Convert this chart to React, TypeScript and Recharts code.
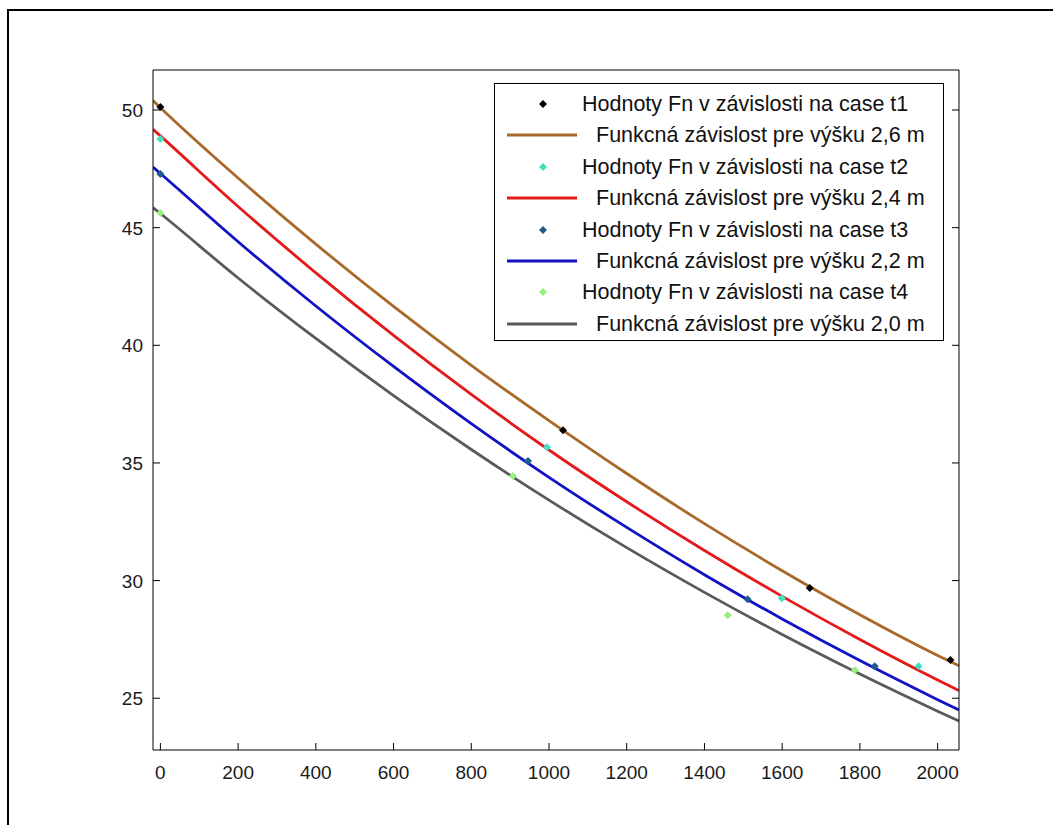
import React from "react";
import { ComposedChart, Line, Scatter, XAxis, YAxis, Legend } from "recharts";

const curveX = [-19, 0, 200, 400, 600, 800, 1000, 1200, 1400, 1600, 1800, 2000, 2055];
const fit26 = [50.4, 50.1, 47.11, 44.3, 41.65, 39.15, 36.8, 34.55, 32.42, 30.42, 28.55, 26.82, 26.38];
const fit24 = [49.18, 48.9, 45.9, 43.08, 40.42, 37.91, 35.55, 33.35, 31.28, 29.33, 27.5, 25.78, 25.33];
const fit22 = [47.57, 47.3, 44.4, 41.67, 39.1, 36.67, 34.39, 32.26, 30.25, 28.37, 26.6, 24.94, 24.5];
const fit20 = [45.85, 45.6, 42.86, 40.29, 37.86, 35.57, 33.42, 31.4, 29.5, 27.71, 26.03, 24.45, 24.03];

// measured points
const t1X = [0, 1036, 1671, 2033];
const t1Y = [50.13, 36.39, 29.68, 26.62];
const t2X = [0, 995, 1599, 1951];
const t2Y = [48.77, 35.67, 29.25, 26.36];
const t3X = [0, 946, 1511, 1838];
const t3Y = [47.28, 35.08, 29.21, 26.36];
const t4X = [0, 907, 1460, 1787];
const t4Y = [45.62, 34.44, 28.53, 26.19];

const xTicks = [0, 200, 400, 600, 800, 1000, 1200, 1400, 1600, 1800, 2000];
const yTicks = [25, 30, 35, 40, 45, 50];

const legendLabels = [
  "Hodnoty Fn v závislosti na case t1",
  "Funkcná závislost pre výšku 2,6 m",
  "Hodnoty Fn v závislosti na case t2",
  "Funkcná závislost pre výšku 2,4 m",
  "Hodnoty Fn v závislosti na case t3",
  "Funkcná závislost pre výšku 2,2 m",
  "Hodnoty Fn v závislosti na case t4",
  "Funkcná závislost pre výšku 2,0 m",
];

const toPts = (xs: number[], ys: number[]) => xs.map((x, i) => ({ x, y: ys[i] }));

const curves = [
  { name: legendLabels[1], data: toPts(curveX, fit26), color: "#A8692A" },
  { name: legendLabels[3], data: toPts(curveX, fit24), color: "#E41A1A" },
  { name: legendLabels[5], data: toPts(curveX, fit22), color: "#1212C4" },
  { name: legendLabels[7], data: toPts(curveX, fit20), color: "#5A5A5A" },
];
const points = [
  { name: legendLabels[0], data: toPts(t1X, t1Y), color: "#000000" },
  { name: legendLabels[2], data: toPts(t2X, t2Y), color: "#40E0C0" },
  { name: legendLabels[4], data: toPts(t3X, t3Y), color: "#1E5C8C" },
  { name: legendLabels[6], data: toPts(t4X, t4Y), color: "#98EE80" },
];

const FONT = "'Liberation Sans', Arial, sans-serif";
const TS = 0.01; // near-zero tick size so custom ticks sit on the axis line

const Diamond = (p: any) => {
  const r = 4;
  return (
    <polygon
      points={`${p.cx},${p.cy - r} ${p.cx + r},${p.cy} ${p.cx},${p.cy + r} ${p.cx - r},${p.cy}`}
      fill={p.fill}
    />
  );
};

const BottomTick = (p: any) => (
  <g>
    <line x1={p.x} y1={p.y} x2={p.x} y2={p.y - 7} stroke="#000" />
    <text x={p.x} y={p.y + 29} textAnchor="middle" fontSize={19} fontFamily={FONT} fill="#1a1a1a">
      {p.payload.value}
    </text>
  </g>
);
const TopTick = (p: any) => <line x1={p.x} y1={p.y} x2={p.x} y2={p.y + 7} stroke="#000" />;
const LeftTick = (p: any) => (
  <g>
    <line x1={p.x} y1={p.y} x2={p.x + 7} y2={p.y} stroke="#000" />
    <text x={p.x - 10} y={p.y + 7} textAnchor="end" fontSize={19} fontFamily={FONT} fill="#1a1a1a">
      {p.payload.value}
    </text>
  </g>
);
const RightTick = (p: any) => <line x1={p.x} y1={p.y} x2={p.x - 7} y2={p.y} stroke="#000" />;

const legendItems = [
  { kind: "dot", color: points[0].color },
  { kind: "line", color: curves[0].color },
  { kind: "dot", color: points[1].color },
  { kind: "line", color: curves[1].color },
  { kind: "dot", color: points[2].color },
  { kind: "line", color: curves[2].color },
  { kind: "dot", color: points[3].color },
  { kind: "line", color: curves[3].color },
];

const LegendBox = () => (
  <div
    style={{
      position: "relative",
      width: 448,
      height: 256,
      border: "1px solid #000",
      background: "#fff",
      fontFamily: FONT,
      fontSize: 21.5,
      color: "#111",
    }}
  >
    {legendItems.map((it, i) => {
      const cy = 20 + i * 31.4;
      return (
        <div key={i}>
          <svg style={{ position: "absolute", left: 0, top: cy - 6 }} width={90} height={12}>
            {it.kind === "line" ? (
              <line x1={12} y1={6} x2={82} y2={6} stroke={it.color} strokeWidth={3} />
            ) : (
              <polygon points="48,2 52,6 48,10 44,6" fill={it.color} />
            )}
          </svg>
          <div
            style={{
              position: "absolute",
              left: it.kind === "line" ? 101 : 87,
              top: cy - 13,
              lineHeight: "26px",
              whiteSpace: "nowrap",
            }}
          >
            {legendLabels[i]}
          </div>
        </div>
      );
    })}
  </div>
);

export default function App() {
  return (
    <div style={{ position: "absolute", left: 0, top: 0, width: 1053, height: 825, overflow: "hidden", background: "#fff" }}>
      <div
        style={{
          position: "absolute",
          left: 7,
          top: 9,
          width: 1200,
          height: 1000,
          borderLeft: "2px solid #000",
          borderTop: "2px solid #000",
        }}
      />
      <div style={{ position: "absolute", left: 0, top: 0 }}>
        <ComposedChart width={1053} height={825} margin={{ top: 60, right: 84, bottom: 35, left: 53 }}>
          <XAxis
            dataKey="x"
            type="number"
            domain={[-19, 2055]}
            allowDataOverflow
            ticks={xTicks}
            interval={0}
            height={40}
            tickSize={TS}
            tickMargin={0}
            tickLine={false}
            axisLine={{ stroke: "#000" }}
            tick={<BottomTick />}
          />
          <XAxis
            xAxisId="top"
            orientation="top"
            type="number"
            domain={[-19, 2055]}
            allowDataOverflow
            ticks={xTicks}
            interval={0}
            height={10}
            tickSize={TS}
            tickMargin={0}
            tickLine={false}
            axisLine={{ stroke: "#000" }}
            tick={<TopTick />}
          />
          <YAxis
            dataKey="y"
            type="number"
            domain={[22.8, 51.7]}
            allowDataOverflow
            ticks={yTicks}
            interval={0}
            width={100}
            tickSize={TS}
            tickMargin={0}
            tickLine={false}
            axisLine={{ stroke: "#000" }}
            tick={<LeftTick />}
          />
          <YAxis
            yAxisId="right"
            orientation="right"
            type="number"
            domain={[22.8, 51.7]}
            allowDataOverflow
            ticks={yTicks}
            interval={0}
            width={10}
            tickSize={TS}
            tickMargin={0}
            tickLine={false}
            axisLine={{ stroke: "#000" }}
            tick={<RightTick />}
          />
          {curves.map((c) => (
            <Line
              key={c.name}
              data={c.data}
              dataKey="y"
              name={c.name}
              type="monotone"
              stroke={c.color}
              strokeWidth={2.8}
              dot={false}
              activeDot={false}
              isAnimationActive={false}
            />
          ))}
          {points.map((s) => (
            <Scatter
              key={s.name}
              data={s.data}
              dataKey="y"
              name={s.name}
              fill={s.color}
              shape={<Diamond />}
              isAnimationActive={false}
            />
          ))}
          <Legend
            layout="vertical"
            align="center"
            verticalAlign="middle"
            wrapperStyle={{ position: "absolute", left: 494, top: 83, width: 450, height: 258 }}
            content={() => <LegendBox />}
          />
        </ComposedChart>
      </div>
    </div>
  );
}
